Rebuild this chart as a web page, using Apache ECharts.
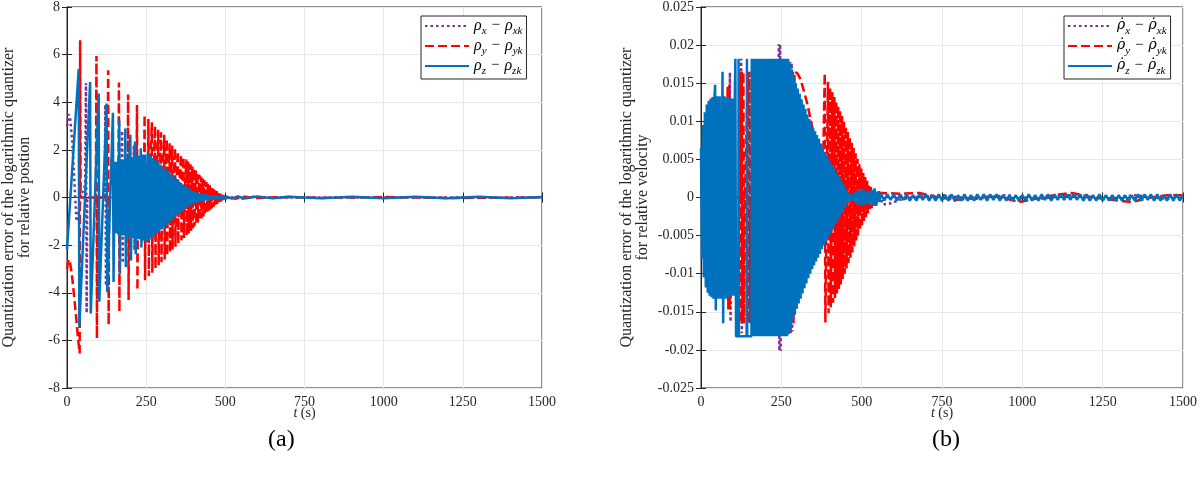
<!DOCTYPE html>
<html><head><meta charset="utf-8">
<script src="https://cdn.jsdelivr.net/npm/echarts@6/dist/echarts.min.js"></script>
<style>html,body{margin:0;padding:0;background:#fff}#c{width:1200px;height:477px}</style>
</head><body><div id="c"></div>
<script>
// ---------- shared axis ticks ----------
const xTicks = [0, 250, 500, 750, 1000, 1250, 1500];
const yTicksA = [-8, -6, -4, -2, 0, 2, 4, 6, 8];
const yTicksB = [-0.025, -0.02, -0.015, -0.01, -0.005, 0, 0.005, 0.01, 0.015, 0.02, 0.025];

// ---------- panel (a): position quantization error, [t, value] ----------
const posX = [[0,3.0],[5,3.5],[10,3.3],[17,2.3],[24,0.5],[30,-1.0],[36,-0.6],[45,0.1],[57,0.5],[60,4.8],[62,-4.85],[64,0],
  [119,0],[121,3.9],[123,-3.7],[125,0],[172,0],[174,2.8],[176,-2.75],[178,0],[209,0],[211,2.2],[213,-2.2],[215,0],
  [262,0],[264,1.5],[266,-1.5],[268,0],[480,0],[500,0.08],[515,-0.08],[530,0.06],[550,-0.05],[580,0.03],[620,0],[1500,0]];

const posY = [[0,-3.0],[5,-2.6],[10,-2.75],[16,-3.3],[22,-4.1],[28,-4.9],[34,-5.8],[40,-6.55],[41.5,6.6],[43,0],
  [91,0],[93,5.94],[94.5,-5.91],[96,0],[128,0],[130,5.34],[131.5,-5.35],[133,0],
  [162,0],[164,4.83],[165.5,-4.8],[167,0],[191,0],[193,4.33],[194.5,-4.3],[196,0],
  [219,0],[221,3.88],[222.5,-3.9],[224,0],[243,0],[245,3.47],[246.5,-3.48],[248,0],
  [256,0],[257,3.3],[258.5,-3.3],[260,0],
  [266,0],[268,3.16],[269.5,-3.16],[271,0],[277,0],[278,3.0],[279.5,-3.0],[281,0],
  [286,0],[288,2.84],[289.5,-2.84],[291,0],[296,0],[297,2.74],[298.5,-2.72],[300,0],
  [305,0],[307,2.63],[308.5,-2.6],[310,0],[314,0],[315,2.45],[316.5,-2.45],[318,0],
  [322,0],[324,2.28],[325.5,-2.3],[327,0],[331,0],[332,2.18],[333.5,-2.18],[335,0],
  [339,0],[341,2.07],[342.5,-2.07],[344,0],[349,0],[350,1.94],[351.5,-1.94],[353,0],
  [358,0],[360,1.8],[361.5,-1.8],[363,0],[367,0],[368,1.7],[369.5,-1.7],[371,0],
  [375,0],[377,1.6],[378.5,-1.6],[380,0],[382,0],[383,1.5],[384.5,-1.5],[386,0],
  [388,0],[390,1.4],[391.5,-1.4],[393,0],[395,0],[396,1.3],[397.5,-1.3],[399,0],
  [400,0],[401,1.22],[402.5,-1.22],[404,0],[406,0],[407,1.13],[408.5,-1.13],[410,0],
  [411,0],[412,1.05],[413.5,-1.05],[415,0],[417,0],[418,0.96],[419.5,-0.96],[421,0],
  [422,0],[423,0.88],[424.5,-0.88],[426,0],[428,0],[429,0.8],[430.5,-0.8],[432,0],
  [433,0],[434,0.72],[435.5,-0.72],[437,0],[439,0],[440,0.65],[441.5,-0.65],[443,0],
  [444,0],[445,0.58],[446.5,-0.58],[448,0],[450,0],[451,0.51],[452.5,-0.51],[454,0],
  [455,0],[456,0.45],[457.5,-0.45],[459,0],[461,0],[462,0.39],[463.5,-0.39],[465,0],
  [466,0],[467,0.33],[468.5,-0.33],[470,0],[472,0],[473,0.27],[474.5,-0.27],[476,0],
  [477,0],[478,0.22],[479.5,-0.22],[481,0],[483,0],[484,0.17],[485.5,-0.17],[487,0],
  [488,0],[489,0.12],[490.5,-0.12],[492,0],[498,0.06],[500,-0.06],[510,0.05],[530,-0.05],
  [560,0.03],[600,-0.02],[700,0.02],[800,-0.02],[1000,0.02],[1200,-0.02],[1500,0]];

const posZ = [[0,-2.2],[37,5.4],[39,-5.42],[73,4.85],[75,-4.87],[100,4.37],[102,-4.38],
  [125,3.95],[127,-3.97],[145,3.56],[147,-3.55],
  [151,1.5],[155,-1.5],[159,1.5],[162,-1.55],[165,3.23],[167,-3.2],[171,1.6],[175,-1.6],[179,1.6],[182,-1.6],
  [184,2.9],[186,-2.92],[190,1.65],[194,-1.65],[197,1.65],[200,2.63],[202,-2.65],[206,1.7],[209,-1.7],[212,1.7],
  [215,2.35],[217,-2.38],[221,1.75],[224,-1.75],[227,1.75],[230,-1.75],[233,2.07],[235,-2.1],[239,1.8],[242,-1.8],
  [246,1.8],[250,1.87],[252,-1.88],
  [255,1.85],[259,-1.8],[263,1.76],[267,-1.71],[271,1.66],[275,-1.62],[279,1.57],[283,-1.52],[287,1.48],[291,-1.43],
  [295,1.38],[299,-1.34],[303,1.29],[307,-1.25],[311,1.21],[315,-1.16],[319,1.11],[323,-1.06],[327,1.01],[331,-0.96],
  [335,0.91],[339,-0.86],[343,0.81],[347,-0.76],[351,0.71],[355,-0.66],[359,0.62],[363,-0.58],[367,0.54],[371,-0.5],
  [375,0.46],[379,-0.42],[383,0.39],[387,-0.35],[391,0.32],[395,-0.29],[399,0.27],[403,-0.25],[407,0.23],[411,-0.21],
  [415,0.19],[419,-0.17],[423,0.16],[427,-0.15],[431,0.14],[435,-0.13],[439,0.12],[443,-0.11],[447,0.1],[451,-0.1],
  [455,0.09],[459,-0.09],[463,0.08],[467,-0.08],[471,0.08],[475,-0.07],[479,0.07],[483,-0.07],[487,0.06],[491,-0.06],
  [495,0.06],[499,-0.06],[503,0.05],[520,-0.05],[540,0.05],[560,-0.04],[600,0.04],[650,-0.03],[700,0.03],[800,-0.03],
  [900,0.03],[1000,-0.03],[1100,0.03],[1200,-0.03],[1300,0.03],[1400,-0.03],[1500,0.02]];

// ---------- panel (b): velocity quantization error, [t, value] ----------
const velX = [[0,0],[55,0],[58,0.013],[60,-0.013],[62,0],[88,0],[90,0.0164],[92,-0.0163],[94,0],
  [123,0],[125,0.0182],[127,-0.0178],[129,0],[240,0],[242,0.0201],[244,-0.0201],[246,0.0201],[248,-0.0201],[250,0],
  [274,0],[277,0.0178],[279,-0.0178],[282,0.0176],[284,-0.0176],[287,0],[500,0],[520,0.0008],[525,-0.0008],
  [535,0.0009],[545,-0.0009],[555,0.0008],[565,-0.0009],[580,-0.0009],[600,-0.0006],[620,-0.0003],[650,0],
  [750,0.0003],[850,-0.0002],[950,0.0003],[1050,-0.0002],[1150,0.0003],[1250,-0.0002],[1350,0.0003],[1450,-0.0002],[1500,0]];

const velY = [[0,0],[52,0.002],[55,0.012],[57,-0.012],[60,0],[80,0],[83,0.0147],[85,-0.0147],[87,0.0147],[89,-0.0147],[92,0],
  [120,0],[122,0.0165],[124,-0.0165],[127,0.0165],[129,-0.0165],[132,0.0165],[134,-0.0165],[137,0],
  [146,0.0165],[148,-0.0165],[151,0.0165],[153,-0.0165],[156,0],[260,0],[262,0.0165],[264,-0.0165],
  [268,0.0165],[270,-0.0165],[274,0.0165],[276,-0.0165],[280,0.0165],[282,-0.0165],[286,0.0165],[288,-0.0165],
  [291,0.0165],[296,0.0165],[300,0.0163],[310,0.0155],[320,0.014],[329,0.0126],[339,0.0107],[349,0.0087],
  [358,0.0072],[365,0.0061],[372,0.005],[380,0.004],
  [385,0.0163],[387,-0.0164],[395,0.0152],[397,-0.0152],[402,0.0144],[404,-0.0144],[409,0.0138],[411,-0.0138],
  [415,0.0132],[417,-0.0132],[421,0.0126],[423,-0.0126],[427,0.012],[429,-0.012],[433,0.0114],[435,-0.0114],
  [439,0.0107],[441,-0.0107],[445,0.01],[447,-0.01],[451,0.0093],[453,-0.0093],[457,0.0086],[459,-0.0086],
  [463,0.0079],[465,-0.0079],[469,0.0072],[471,-0.0072],[475,0.0065],[477,-0.0064],[481,0.0058],[483,-0.0057],
  [487,0.0051],[489,-0.005],[493,0.0044],[495,-0.0043],[499,0.0038],[501,-0.0037],[505,0.0032],[507,-0.0031],
  [511,0.0027],[513,-0.0026],[517,0.0022],[519,-0.0021],[523,0.0018],[525,-0.0017],[529,0.0014],[531,-0.0014],
  [535,0.0011],[537,-0.0011],[541,0.0008],[543,-0.0008],[547,0.0006],[550,-0.0004],
  [560,0.0006],[620,0.0005],[680,0.0006],[740,0],[800,-0.0003],[860,0],[920,0.0002],[990,-0.0006],[1060,0],
  [1100,0.0003],[1154,0.0006],[1220,0],[1280,-0.0003],[1340,-0.0006],[1400,0],[1450,0.0003],[1500,0.0003]];

const velZ = [[0,0.0065],[3,-0.008],[6,0.0095],[9,-0.0105],[12,0.0112],[15,-0.0118],[18,0.0122],[21,-0.0125],
  [24,0.0127],[27,-0.0129],[30,0.013],[33,-0.0131],[36,0.0132],[39,-0.0133],[42,0.0133],[44,0.0148],[46,-0.0148],
  [50,0.0133],[54,-0.0133],[58,0.0133],[62,-0.0133],[67,0.0165],[69,-0.0165],[73,0.0133],
  [77,-0.0133],[81,0.0132],[85,-0.0132],[89,0.0131],[93,-0.013],[97,0.013],[101,-0.0129],
  [105,0.0128],[107,0.0182],[109,-0.0182],[116,-0.0182],[117,0.0182],[118,-0.0182],[142,-0.0182],
  [143,0.0182],[144,-0.0182],[157,-0.0182],[158,0.0182],[159,-0.0182],[162,-0.0182],
  [163,0.0182],[166,-0.0182],[169,0.0182],[172,-0.0182],[175,0.0182],[178,-0.0182],[181,0.0182],[184,-0.0182],
  [187,0.0182],[190,-0.0182],[193,0.0182],[196,-0.0182],[199,0.0182],[202,-0.0182],[205,0.0182],[208,-0.0182],
  [211,0.0182],[214,-0.0182],[217,0.0182],[220,-0.0182],[223,0.0182],[226,-0.0182],[229,0.0182],[232,-0.0182],
  [235,0.0182],[238,-0.0182],[241,0.0182],[244,-0.0182],[247,0.0182],[250,-0.0182],[253,0.0182],[256,-0.0182],
  [259,0.0182],[262,-0.0182],[265,0.0182],[268,-0.0182],[271,0.0182],
  [274,-0.0179],[277,0.0176],[280,-0.0172],[283,0.0167],[286,-0.0162],[289,0.0158],[292,-0.0154],[295,0.015],
  [298,-0.0146],[301,0.0143],[304,-0.0139],[307,0.0136],[310,-0.0133],[313,0.0129],[316,-0.0126],[319,0.0122],
  [322,-0.0119],[325,0.0116],[328,-0.0113],[331,0.0109],[334,-0.0106],[337,0.0103],[340,-0.01],[343,0.0097],
  [346,-0.0094],[349,0.0091],[352,-0.0089],[355,0.0087],[358,-0.0084],[361,0.0082],[364,-0.0079],[367,0.0077],
  [370,-0.0074],[373,0.0071],[376,-0.0068],[379,0.0066],[382,-0.0063],[385,0.006],[388,-0.0058],[391,0.0056],
  [394,-0.0053],[397,0.0051],[400,-0.0049],[403,0.0046],[406,-0.0044],[409,0.0042],[412,-0.004],[415,0.0038],
  [418,-0.0035],[421,0.0033],[424,-0.0031],[427,0.0029],[430,-0.0027],[433,0.0025],[436,-0.0022],[439,0.002],
  [442,-0.0018],[445,0.0016],[448,-0.0013],[451,0.001],[454,-0.0008],[457,0.0006],[460,-0.0005],[463,0.0004],
  [466,-0.0004],[470,0.0004],[475,-0.0005],[480,0.0007],[485,-0.0009],[490,0.001],[495,-0.0011],[500,0.0011],
  [505,-0.001],[510,0.001],[515,-0.0009],[520,0.0008],[525,-0.0009],[530,0.001],[535,-0.0011],[540,0.0012],
  [545,-0.0011],[550,0.0008],[555,-0.0006],[560,0.0005],
  [570,-0.0004],[580,0.0004],[590,-0.0003],[600,0.0004],[610,-0.0004],[620,0.0004],[630,-0.0003],[640,0.0004],
  [650,-0.0004],[660,0.0003],[670,-0.0004],[680,0.0004],[690,-0.0003],[700,0.0004],[710,-0.0004],[720,0.0003],
  [730,-0.0004],[740,0.0004],[750,-0.0004],[760,0.0003],[770,-0.0004],[780,0.0004],[790,-0.0005],[800,0.0003],
  [810,-0.0004],[820,0.0004],[830,-0.0004],[840,0.0003],[850,-0.0004],[860,0.0004],[870,-0.0003],[880,0.0004],
  [890,-0.0004],[900,0.0004],[910,-0.0003],[920,0.0004],[930,-0.0004],[940,0.0003],[950,-0.0004],[960,0.0003],
  [970,-0.0004],[980,0.0003],[990,-0.0005],[1000,0.0003],[1010,-0.0004],[1020,0.0004],[1030,-0.0004],[1040,0.0003],
  [1050,-0.0004],[1060,0.0004],[1070,-0.0003],[1080,0.0004],[1090,-0.0004],[1100,0.0004],[1110,-0.0003],[1120,0.0004],
  [1130,-0.0003],[1140,0.0004],[1150,-0.0003],[1160,0.0005],[1170,-0.0003],[1180,0.0004],[1190,-0.0004],[1200,0.0004],
  [1210,-0.0004],[1220,0.0003],[1230,-0.0004],[1240,0.0004],[1250,-0.0004],[1260,0.0003],[1270,-0.0004],[1280,0.0003],
  [1290,-0.0004],[1300,0.0003],[1310,-0.0004],[1320,0.0003],[1330,-0.0005],[1340,0.0003],[1350,-0.0004],[1360,0.0004],
  [1370,-0.0004],[1380,0.0004],[1390,-0.0003],[1400,0.0004],[1410,-0.0004],[1420,0.0004],[1430,-0.0004],[1440,0.0003],
  [1450,-0.0004],[1460,0.0004],[1470,-0.0004],[1480,0.0004],[1490,-0.0004],[1500,0.0003]];

// ---------- labels ----------
const legendA = {a_x:'{m|ρ}{s|x}{o|−}{m|ρ}{s|xk}', a_y:'{m|ρ}{s|y}{o|−}{m|ρ}{s|yk}', a_z:'{m|ρ}{s|z}{o|−}{m|ρ}{s|zk}'};
const legendB = {b_x:'{d|ρ\u0307}{s|x}{o|−}{d|ρ\u0307}{s|xk}', b_y:'{d|ρ\u0307}{s|y}{o|−}{d|ρ\u0307}{s|yk}', b_z:'{d|ρ\u0307}{s|z}{o|−}{d|ρ\u0307}{s|zk}'};
const yNameA = 'Quantization error of the logarithmic quantizer\nfor relative postion';
const yNameB = 'Quantization error of the logarithmic quantizer\nfor relative velocity';
const captions = ['(a)', '(b)'];

const SERIF = '"Liberation Serif", "Times New Roman", serif';
const DSERIF = '"DejaVu Serif", serif';
const AX = '#262626';
const COL = {x:'#7E2F8E', y:'#FF0000', z:'#0072BD'};
const LS = {x:{type:[2.5,3], width:2.5}, y:{type:[9,4], width:2.5}, z:{type:'solid', width:2.5}};

const rich = {
  m:{fontFamily:SERIF, fontStyle:'italic', fontSize:16, lineHeight:16, verticalAlign:'top', color:'#000'},
  d:{fontFamily:DSERIF, fontStyle:'italic', fontSize:14, lineHeight:16, verticalAlign:'top', color:'#000'},
  s:{fontFamily:SERIF, fontStyle:'italic', fontSize:11, lineHeight:10, padding:[8,0,0,0], verticalAlign:'top', color:'#000'},
  o:{fontFamily:SERIF, fontSize:15, lineHeight:16, verticalAlign:'top', padding:[0,5,0,5], color:'#000'}
};

const grids = [
  {left:57.5, right:1200-542, top:5, bottom:477-388, show:true, borderColor:AX, borderWidth:1},
  {left:701, right:1200-1184.5, top:5, bottom:477-388, show:true, borderColor:AX, borderWidth:1}
];

function xAx(g, pos) {
  const main = pos === 'bottom';
  return {type:'value', gridIndex:g, position:pos, min:xTicks[0], max:xTicks[xTicks.length-1], interval:xTicks[1]-xTicks[0],
    axisLine:{show:true, lineStyle:{color:AX, width:1}},
    axisTick:{show:true, inside:true, length:5, lineStyle:{color:AX}},
    axisLabel:{show:main, color:AX, fontFamily:SERIF, fontSize:14, margin:7, formatter:v => String(v)},
    splitLine:{show:main, lineStyle:{color:'#e8e8e8', width:1}},
    name: main ? '{i|t} (s)' : '', nameLocation:'middle', nameGap:18, nameMoveOverlap:false,
    nameTextStyle:{color:AX, fontFamily:SERIF, fontSize:14, rich:{i:{fontFamily:SERIF, fontStyle:'italic', fontSize:14, color:AX}}}};
}
function yAx(g, pos, ticks, name, gap, fmt) {
  const main = pos === 'left';
  return {type:'value', gridIndex:g, position:pos, min:ticks[0], max:ticks[ticks.length-1],
    interval: +(ticks[1]-ticks[0]).toFixed(6),
    axisLine:{show:true, lineStyle:{color:AX, width:1}},
    axisTick:{show:true, inside:true, length:5, lineStyle:{color:AX}},
    axisLabel:{show:main, color:AX, fontFamily:SERIF, fontSize:14, margin:7, formatter:fmt},
    splitLine:{show:main, lineStyle:{color:'#e8e8e8', width:1}},
    name: main ? name : '', nameLocation:'middle', nameGap:gap, nameMoveOverlap:false,
    nameTextStyle:{color:AX, fontFamily:SERIF, fontSize:16, lineHeight:16}};
}
const fmtB = v => String(parseFloat(v.toFixed(4)));

function ser(name, k, data, xi, yi) {
  return {name, type:'line', xAxisIndex:xi, yAxisIndex:yi, data, symbol:'none', showSymbol:false,
    sampling:null, animation:false, clip:true, color:COL[k],
    lineStyle:{color:COL[k], width:LS[k].width, type:LS[k].type}};
}

function legend(names, map, left) {
  return {data:names, orient:'vertical', left, top:16, itemWidth:44, itemHeight:12, itemGap:1,
    padding:[2,4,2,3], backgroundColor:'#fff', borderColor:AX, borderWidth:1, borderRadius:0,
    itemStyle:{opacity:0}, formatter: n => map[n], textStyle:{rich, padding:[0,0,0,0]}, selectedMode:false};
}

const chart = echarts.init(document.getElementById('c'), null, {renderer:'canvas'});
chart.setOption({
  animation:false,
  backgroundColor:'#fff',
  grid:grids,
  xAxis:[xAx(0,'bottom'), xAx(0,'top'), xAx(1,'bottom'), xAx(1,'top')],
  yAxis:[yAx(0,'left',yTicksA,yNameA,34), yAx(0,'right',yTicksA,'',0), yAx(1,'left',yTicksB,yNameB,50,fmtB), yAx(1,'right',yTicksB,'',0)],
  legend:[legend(['a_x','a_y','a_z'], legendA, 421), legend(['b_x','b_y','b_z'], legendB, 1064)],
  series:[
    ser('a_x','x',posX,0,0), ser('a_y','y',posY,0,0), ser('a_z','z',posZ,0,0),
    ser('b_x','x',velX,2,2), ser('b_y','y',velY,2,2), ser('b_z','z',velZ,2,2)
  ],
  graphic:[
    {type:'text', left:268, top:428, style:{text:captions[0], font:'24px '+SERIF, fill:'#000'}},
    {type:'text', left:932, top:428, style:{text:captions[1], font:'24px '+SERIF, fill:'#000'}}
  ]
});
</script></body></html>
